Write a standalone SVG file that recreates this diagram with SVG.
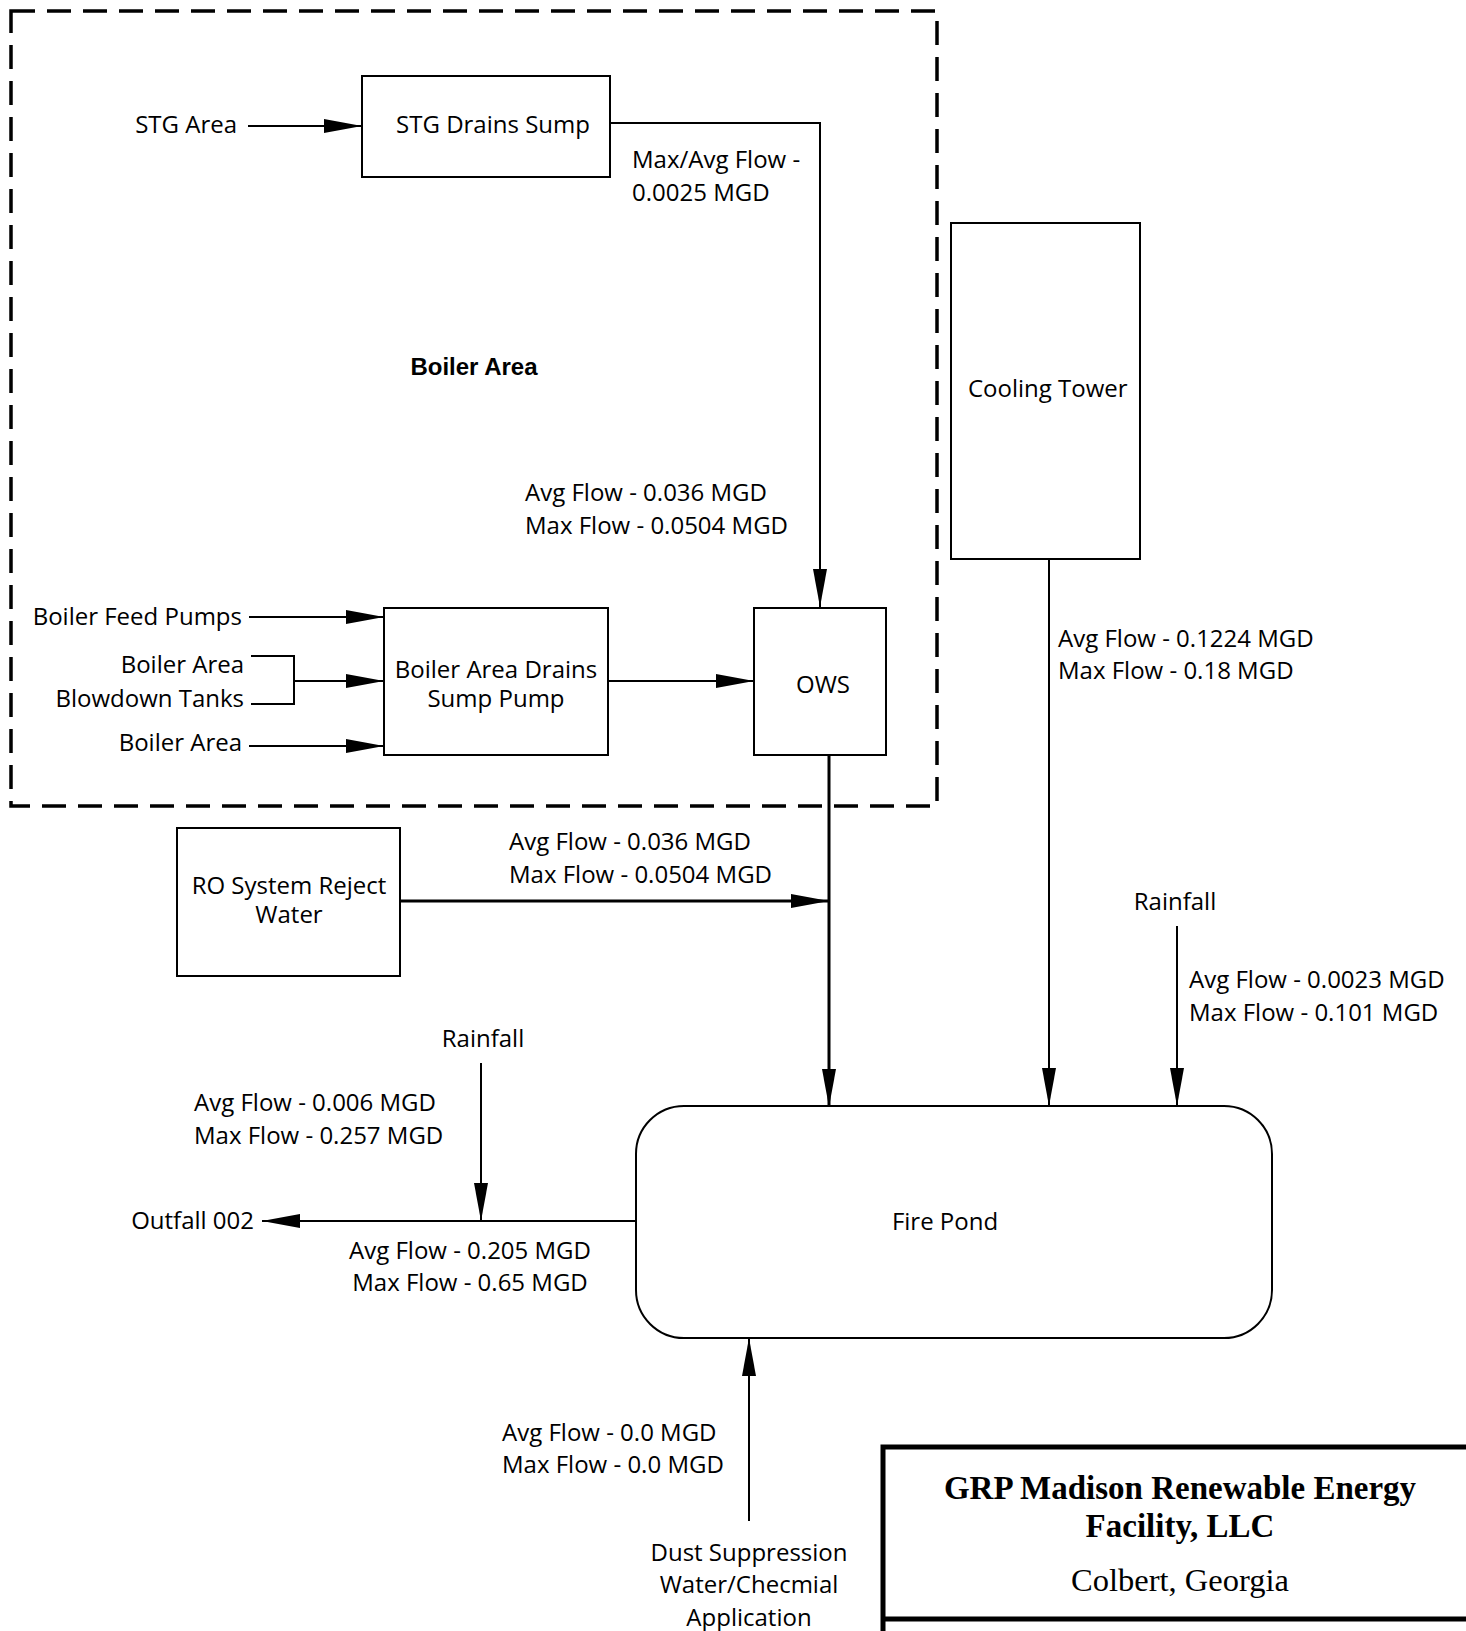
<svg xmlns="http://www.w3.org/2000/svg" width="1466" height="1631" viewBox="0 0 1466 1631">
<style>
text{font-family:"Open Sans","Noto Sans",sans-serif;font-size:24px;fill:#000}
.bold{font-family:"Liberation Sans",Arial,sans-serif;font-weight:bold;font-size:24px}
.title{font-family:"Liberation Serif","Times New Roman",serif;font-weight:bold;font-size:33px}
.sub{font-family:"Liberation Serif","Times New Roman",serif;font-size:32.5px}
.box{fill:#fff;stroke:#000;stroke-width:2}
.ln{fill:none;stroke:#000;stroke-width:2}
.thk{fill:none;stroke:#000;stroke-width:3}
.ar{marker-end:url(#ah)}
</style>
<defs>
<marker id="ah" markerUnits="userSpaceOnUse" markerWidth="40" markerHeight="16" refX="38" refY="7" orient="auto" viewBox="0 0 40 14">
<path d="M0,0 L38,7 L0,14 z" fill="#000"/>
</marker>
</defs>
<rect width="1466" height="1631" fill="#fff"/>
<g id="boiler-area">
<rect x="11" y="11" width="926" height="795" fill="none" stroke="#000" stroke-width="3.5" stroke-dasharray="24 12"/>
<text class="bold" x="474" y="375" text-anchor="middle">Boiler Area</text>
</g>
<g id="connectors">
<line class="ln ar" x1="248" y1="126" x2="362" y2="126"/>
<polyline class="ln ar" points="610,123 820,123 820,607"/>
<line class="ln ar" x1="249" y1="617" x2="384" y2="617"/>
<polyline class="ln" points="251,656 294,656 294,704 251,704"/>
<line class="ln ar" x1="294" y1="681" x2="384" y2="681"/>
<line class="ln ar" x1="249" y1="746" x2="384" y2="746"/>
<line class="ln ar" x1="608" y1="681" x2="754" y2="681"/>
<line class="thk ar" x1="829" y1="755" x2="829" y2="1107"/>
<line class="thk ar" x1="400" y1="901" x2="829" y2="901"/>
<line class="ln ar" x1="1049" y1="559" x2="1049" y2="1106"/>
<line class="ln ar" x1="1177" y1="926" x2="1177" y2="1106"/>
<line class="ln ar" x1="636" y1="1221" x2="262" y2="1221"/>
<line class="ln ar" x1="481" y1="1063" x2="481" y2="1221"/>
<line class="ln ar" x1="749" y1="1521" x2="749" y2="1338"/>
</g>
<g id="stg-area"><text x="237" y="133" text-anchor="end">STG Area</text></g>
<g id="stg-drains-sump">
<rect class="box" x="362" y="76" width="248" height="101"/>
<text x="493" y="133" text-anchor="middle">STG Drains Sump</text>
</g>
<g id="label-stg">
<text x="632" y="168">Max/Avg Flow -</text>
<text x="632" y="201">0.0025 MGD</text>
</g>
<g id="label-ows-in">
<text x="525" y="501">Avg Flow - 0.036 MGD</text>
<text x="525" y="534">Max Flow - 0.0504 MGD</text>
</g>
<g id="boiler-feed-pumps"><text x="242" y="625" text-anchor="end">Boiler Feed Pumps</text></g>
<g id="blowdown-tanks">
<text x="244" y="673" text-anchor="end">Boiler Area</text>
<text x="244" y="707" text-anchor="end">Blowdown Tanks</text>
</g>
<g id="boiler-area-src"><text x="242" y="751" text-anchor="end">Boiler Area</text></g>
<g id="drains-sump-pump">
<rect class="box" x="384" y="608" width="224" height="147"/>
<text x="496" y="678" text-anchor="middle">Boiler Area Drains</text>
<text x="496" y="707" text-anchor="middle">Sump Pump</text>
</g>
<g id="ows">
<rect class="box" x="754" y="608" width="132" height="147"/>
<text x="823" y="693" text-anchor="middle">OWS</text>
</g>
<g id="ro-system">
<rect class="box" x="177" y="828" width="223" height="148"/>
<text x="289" y="894" text-anchor="middle">RO System Reject</text>
<text x="289" y="923" text-anchor="middle">Water</text>
</g>
<g id="label-ro">
<text x="509" y="850">Avg Flow - 0.036 MGD</text>
<text x="509" y="883">Max Flow - 0.0504 MGD</text>
</g>
<g id="cooling-tower">
<rect class="box" x="951" y="223" width="189" height="336"/>
<text x="968" y="397">Cooling Tower</text>
</g>
<g id="label-ct">
<text x="1058" y="647">Avg Flow - 0.1224 MGD</text>
<text x="1058" y="679">Max Flow - 0.18 MGD</text>
</g>
<g id="rainfall-right">
<text x="1175" y="910" text-anchor="middle">Rainfall</text>
<text x="1189" y="988">Avg Flow - 0.0023 MGD</text>
<text x="1189" y="1021">Max Flow - 0.101 MGD</text>
</g>
<g id="fire-pond">
<rect class="box" x="636" y="1106" width="636" height="232" rx="48" ry="48"/>
<text x="945" y="1230" text-anchor="middle">Fire Pond</text>
</g>
<g id="outfall"><text x="254" y="1229" text-anchor="end">Outfall 002</text></g>
<g id="rainfall-left">
<text x="483" y="1047" text-anchor="middle">Rainfall</text>
<text x="194" y="1111">Avg Flow - 0.006 MGD</text>
<text x="194" y="1144">Max Flow - 0.257 MGD</text>
</g>
<g id="label-outfall">
<text x="470" y="1259" text-anchor="middle">Avg Flow - 0.205 MGD</text>
<text x="470" y="1291" text-anchor="middle">Max Flow - 0.65 MGD</text>
</g>
<g id="label-dust">
<text x="502" y="1441">Avg Flow - 0.0 MGD</text>
<text x="502" y="1473">Max Flow - 0.0 MGD</text>
</g>
<g id="dust-suppression">
<text x="749" y="1561" text-anchor="middle">Dust Suppression</text>
<text x="749" y="1593" text-anchor="middle">Water/Checmial</text>
<text x="749" y="1626" text-anchor="middle">Application</text>
</g>
<g id="title-block">
<polyline points="883,1700 883,1447 1480,1447" fill="none" stroke="#000" stroke-width="5"/>
<line x1="883" y1="1619" x2="1480" y2="1619" stroke="#000" stroke-width="5"/>
<text class="title" x="1180" y="1499" text-anchor="middle">GRP Madison Renewable Energy</text>
<text class="title" x="1180" y="1537" text-anchor="middle">Facility, LLC</text>
<text class="sub" x="1180" y="1591" text-anchor="middle">Colbert, Georgia</text>
</g>
</svg>
